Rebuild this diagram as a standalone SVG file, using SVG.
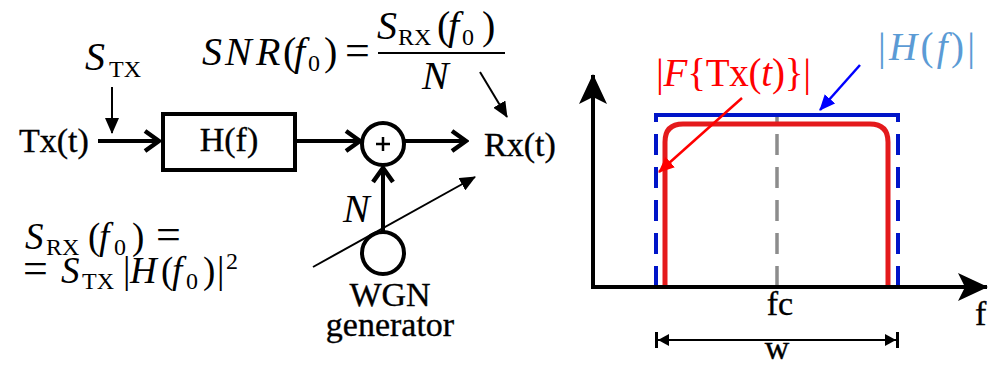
<svg xmlns="http://www.w3.org/2000/svg" width="990" height="365" viewBox="0 0 990 365">
<style>
.lbl{font-family:"Liberation Serif",serif;font-size:34px;fill:#000;stroke:#000;stroke-width:0.35}
.m{font-family:"Liberation Serif",serif;font-size:40px;fill:#000}
.f2{font-size:37px}
.i{font-style:italic}
.sub{font-size:24px}
.eq{font-size:44px}
.ln{fill:none;stroke:#000;stroke-width:4}
.thin{fill:none;stroke:#000;stroke-width:2}
</style>
<defs>
<marker id="chev" viewBox="0 0 20 24" refX="18" refY="12" markerWidth="20" markerHeight="24" markerUnits="userSpaceOnUse" orient="auto">
<path d="M3,2 L17,12 L3,22" fill="none" stroke="#000" stroke-width="4.5"/>
</marker>
<marker id="tri" viewBox="0 0 16 14" refX="15" refY="7" markerWidth="16" markerHeight="14" markerUnits="userSpaceOnUse" orient="auto">
<path d="M0,0 L16,7 L0,14 Z" fill="#000"/>
</marker>
<marker id="triB" viewBox="0 0 16 14" refX="15" refY="7" markerWidth="16" markerHeight="14" markerUnits="userSpaceOnUse" orient="auto">
<path d="M0,0 L16,7 L0,14 Z" fill="#0000ff"/>
</marker>
<marker id="triR" viewBox="0 0 16 14" refX="15" refY="7" markerWidth="16" markerHeight="14" markerUnits="userSpaceOnUse" orient="auto">
<path d="M0,0 L16,7 L0,14 Z" fill="#ff0000"/>
</marker>
<marker id="stealth" viewBox="0 0 30 28" refX="29" refY="14" markerWidth="30" markerHeight="28" markerUnits="userSpaceOnUse" orient="auto">
<path d="M0,0 L30,14 L0,28 L7,14 Z" fill="#000"/>
</marker>
<marker id="dim" viewBox="0 0 14 16" refX="13" refY="8" markerWidth="14" markerHeight="16" markerUnits="userSpaceOnUse" orient="auto">
<path d="M0,2 L11,8 L0,14 Z" fill="#000"/>
<path d="M12.5,0 V16" stroke="#000" stroke-width="3"/>
</marker>
</defs>

<!-- left block diagram nodes -->
<g id="tx">
<text class="lbl" x="19" y="152">Tx(t)</text>
</g>
<g id="stx">
<text class="m"><tspan class="i" x="85" y="70">S</tspan><tspan class="sub" x="109" y="77">TX</tspan></text>
</g>
<g id="hf">
<rect x="163" y="114" width="132" height="56" fill="#fff" stroke="#000" stroke-width="4"/>
<text class="lbl" x="229" y="151" text-anchor="middle">H(f)</text>
</g>
<g id="sum">
<circle cx="383" cy="144" r="21" fill="#fff" stroke="#000" stroke-width="4"/>
<path d="M383,137 V151 M376,144 H390" stroke="#000" stroke-width="2.5"/>
</g>
<g id="rx">
<text class="lbl" x="484" y="156">Rx(t)</text>
</g>
<g id="wgn">
<circle cx="383" cy="253" r="21" fill="#fff" stroke="#000" stroke-width="4"/>
<text class="lbl" x="390" y="306" text-anchor="middle" font-size="32">WGN</text>
<text class="lbl" x="390" y="336" text-anchor="middle" font-size="31">generator</text>
</g>
<g id="nlabel">
<text class="m i" x="343" y="222" font-size="36">N</text>
</g>
<g id="snr">
<text class="m"><tspan class="i" x="202" y="65">S</tspan><tspan class="i" x="225">N</tspan><tspan class="i" x="256">R</tspan><tspan x="283">(</tspan><tspan class="i" x="294">f</tspan><tspan class="sub" x="308" y="71">0</tspan><tspan x="324" y="65">)</tspan><tspan class="eq" x="345">=</tspan></text>
<text class="m"><tspan class="i" x="377" y="39">S</tspan><tspan class="sub" x="398" y="45">RX</tspan><tspan x="437" y="39">(</tspan><tspan class="i" x="448">f</tspan><tspan class="sub" x="462" y="45">0</tspan><tspan x="482" y="39">)</tspan></text>
<path d="M378,53 H505" stroke="#000" stroke-width="2"/>
<text class="m i" x="422" y="89">N</text>
</g>
<g id="srx">
<text class="m f2"><tspan class="i" x="25" y="249">S</tspan><tspan class="sub" x="46" y="255">RX</tspan><tspan x="88" y="249">(</tspan><tspan class="i" x="99">f</tspan><tspan class="sub" x="114" y="255">0</tspan><tspan x="132" y="249">)</tspan><tspan class="eq" x="156">=</tspan></text>
<text class="m f2"><tspan class="eq" x="23" y="283">=</tspan><tspan class="i" x="61">S</tspan><tspan class="sub" x="82" y="289">TX</tspan><tspan x="123" y="283">|</tspan><tspan class="i" x="130">H</tspan><tspan x="161">(</tspan><tspan class="i" x="172">f</tspan><tspan class="sub" x="186" y="289">0</tspan><tspan x="203" y="283">)</tspan><tspan x="217">|</tspan><tspan class="sub" x="226" y="269">2</tspan></text>
</g>

<!-- right spectrum plot -->
<g id="plot">
<path d="M777,287 V115" stroke="#8c8c8c" stroke-width="3.5" stroke-dasharray="21 12" fill="none"/>
<path d="M656,287 V115 M898,287 V115" stroke="#0015c8" stroke-width="4" stroke-dasharray="21 12" fill="none"/>
<path d="M654,115 H900" stroke="#0015c8" stroke-width="4" fill="none"/>
<path d="M665,287 V142 Q665,124 683,124 H870 Q888,124 888,142 V287" stroke="#e41a1c" stroke-width="5" fill="none"/>
</g>
<g id="axes">
<path d="M593,289 V75" class="ln" marker-end="url(#stealth)"/>
<path d="M591,287 H987" class="ln" marker-end="url(#stealth)"/>
<text class="lbl" x="780" y="315" text-anchor="middle">fc</text>
<text class="lbl" x="975" y="325">f</text>
<text class="lbl" x="777" y="359" text-anchor="middle" font-size="30">w</text>
</g>
<g id="width">
<path d="M777,340 H656" class="thin" marker-end="url(#dim)"/>
<path d="M777,340 H898" class="thin" marker-end="url(#dim)"/>
</g>
<g id="flabel">
<text x="656" y="86" font-family="Liberation Serif,serif" font-size="39" fill="#ff0000" textLength="155" lengthAdjust="spacing">|<tspan font-style="italic">F</tspan>{Tx(<tspan font-style="italic">t</tspan>)}|</text>
</g>
<g id="hlabel">
<text x="878" y="60" font-family="Liberation Serif,serif" font-size="39" fill="#5b9bd5" textLength="97" lengthAdjust="spacing">|<tspan font-style="italic">H</tspan>(<tspan font-style="italic">f</tspan>)|</text>
</g>

<!-- connectors -->
<g id="connectors">
<path d="M98,141 H160" class="ln" marker-end="url(#chev)"/>
<path d="M112,87 V133" class="thin" marker-end="url(#tri)"/>
<path d="M297,141 H361" class="ln" marker-end="url(#chev)"/>
<path d="M405,141 H467" class="ln" marker-end="url(#chev)"/>
<path d="M383,231 V167" class="ln" marker-end="url(#chev)"/>
<path d="M313,267 L475,177" class="thin" marker-end="url(#tri)"/>
<path d="M480,72 L507,117" class="thin" marker-end="url(#tri)"/>
<path d="M860,65 L820,110" stroke="#0000ff" stroke-width="2.5" fill="none" marker-end="url(#triB)"/>
<path d="M742,98 L659,172" stroke="#ff0000" stroke-width="2.5" fill="none" marker-end="url(#triR)"/>
</g>
</svg>
